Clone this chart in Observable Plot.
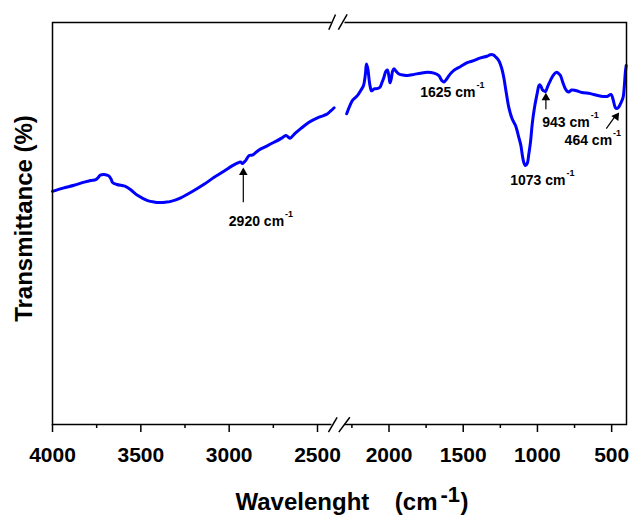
<!DOCTYPE html>
<html><head><meta charset="utf-8">
<script src="https://cdn.jsdelivr.net/npm/d3@7"></script>
<script src="https://cdn.jsdelivr.net/npm/@observablehq/plot@0.6"></script>
<style>
html,body{margin:0;padding:0;background:#fff;}
#chart svg{display:block;}
</style>
</head><body><div id="chart"></div>
<script>
// ---- data ----
const leftWavenumber = [4000,3940,3878,3820,3783,3755,3740,3731,3708,3690,3680,3668,3660,3636,3600,3585,3557,3519,3462,3420,3397,3360,3330,3274,3199,3140,3085,3030,2981,2944,2935,2925,2915,2906,2887,2870,2859,2831,2790,2746,2700,2680,2668,2655,2630,2595,2548,2500,2463,2443,2425,2406];
const leftTransmittance = [58.0,58.8,59.5,60.3,60.7,60.9,61.5,62.0,62.2,62.0,61.8,61.0,60.2,59.7,59.4,59.2,58.4,57.0,55.7,55.3,55.2,55.3,55.5,56.4,58.2,59.8,61.5,63.0,64.4,65.2,65.3,64.9,65.3,65.7,66.9,67.0,67.3,68.3,69.2,70.2,71.3,71.9,71.6,71.2,72.3,73.6,75.2,76.3,76.9,77.3,78.0,78.8];
const rightWavenumber = [2285,2265,2246,2213,2190,2172,2165,2158,2152,2146,2141,2134,2128,2118,2112,2100,2089,2075,2061,2048,2034,2022,2011,2000,1993,1985,1975,1966,1955,1933,1900,1876,1830,1787,1740,1697,1664,1645,1630,1610,1596,1563,1520,1473,1430,1383,1340,1317,1295,1283,1260,1240,1227,1210,1193,1170,1148,1126,1112,1103,1092,1080,1068,1058,1046,1035,1020,1002,990,984,975,965,957,946,930,912,895,874,860,845,830,812,800,789,770,744,700,643,580,531,504,490,476,465,453,440,423,415,408,402];
const rightTransmittance = [77.3,79.2,80.6,81.8,83.1,84.3,85.5,87.5,89.7,89.0,88.1,85.8,84.3,83.0,83.1,83.5,83.5,83.6,83.9,85.0,86.4,87.8,88.2,86.5,85.0,86.0,88.0,88.5,88.0,87.2,86.9,86.8,87.1,87.4,87.6,87.4,86.8,85.6,85.2,86.0,86.8,88.1,89.0,90.0,90.5,91.2,91.6,92.0,91.9,91.5,90.5,88.5,86.4,82.5,78.9,76.0,74.4,71.5,69.5,67.3,65.2,64.4,65.0,67.3,70.5,74.8,78.8,82.3,84.3,84.5,84.0,83.2,83.0,82.8,84.2,85.6,86.8,87.6,87.4,86.8,85.2,83.5,82.9,82.7,83.2,83.1,82.6,82.3,81.7,81.6,82.1,80.8,78.9,78.6,78.9,79.8,81.4,84.0,87.5,89.3];

const majorTicks = [4000,3500,3000,2500,2000,1500,1000,500];
const minorTicks = [3750,3250,2750,2250,1750,1250,750];

// peak annotations: label, position of end of "cm" (wavenumber) and baseline (transmittance)
const peakLabels = ["2920","1625","1073","943","464"];
const peakLabelX = [2689,1417,811,648,497];
const peakLabelY = [49.5,81.4,59.7,74.0,69.6];

// arrows: start (x1,y1) -> tip (x2,y2)
const arrowX1 = [2920,943,536];
const arrowY1 = [55.3,78.4,73.6];
const arrowX2 = [2920,943,469];
const arrowY2 = [63.2,81.8,77.1];
const arrowAngle = [0,0,35];

// axis break marks (two slashes on top and bottom axis)
const breakX1 = [2436,2382,2438,2378];
const breakY1 = [98.2,98.2,-1.9,-1.9];
const breakX2 = [2398,2282,2389,2264];
const breakY2 = [102.0,102.0,1.8,1.8];
const breakGapX = [2421,2300];

const xTitleWord = "Wavelenght";
const xTitleUnit = "(cm";
const xTitleSup = "-1";
const xTitleClose = ")";
const yTitle = "Transmittance (%)";

// ---- tables ----
const spectrum = [
  ...leftWavenumber.map((w,i)=>({w, t:leftTransmittance[i], seg:"a"})),
  ...rightWavenumber.map((w,i)=>({w, t:rightTransmittance[i], seg:"b"}))
];
const peaks = peakLabels.map((l,i)=>({label:l, x:peakLabelX[i], y:peakLabelY[i]}));
const arrows = arrowX1.map((x,i)=>({x1:x, y1:arrowY1[i], x2:arrowX2[i], y2:arrowY2[i], a:arrowAngle[i]}));
const breaks = breakX1.map((x,i)=>({x1:x, y1:breakY1[i], x2:breakX2[i], y2:breakY2[i]}));
const gaps = [0,100].map(v=>({x1:breakGapX[0], x2:breakGapX[1], y:v}));

const FONT = "'Liberation Sans', Arial, Helvetica, sans-serif";

const chart = Plot.plot({
  width: 632,
  height: 515,
  marginLeft: 52,
  marginRight: 6,
  marginTop: 22,
  marginBottom: 91,
  style: {fontFamily: FONT, fontWeight: "bold", background: "#fff", color: "#000"},
  x: {type: "linear", domain: [4000, 2380, 2320, 400], range: [52, 338.2, 341, 626], axis: null},
  y: {domain: [0, 100], axis: null},
  marks: [
    Plot.line(spectrum, {x: "w", y: "t", z: "seg", stroke: "#0000ff", strokeWidth: 3, curve: "catmull-rom"}),
    Plot.frame({stroke: "#000", strokeWidth: 1.5}),
    Plot.link(gaps, {x1: "x1", x2: "x2", y1: "y", y2: "y", stroke: "#fff", strokeWidth: 4}),
    Plot.link(breaks, {x1: "x1", y1: "y1", x2: "x2", y2: "y2", stroke: "#000", strokeWidth: 1.5}),
    Plot.axisX(majorTicks, {tickSize: 8, tickPadding: 15, strokeWidth: 1.5, fontSize: 21, tickFormat: d => String(d)}),
    Plot.axisX(minorTicks, {tickSize: 4, strokeWidth: 1.5, tickFormat: () => ""}),
    Plot.link(arrows, {x1: "x1", y1: "y1", x2: "x2", y2: "y2", stroke: "#000", strokeWidth: 1.2}),
    Plot.dot(arrows, {x: "x2", y: "y2", symbol: "triangle", r: 3.2, fill: "#000", stroke: null, rotate: "a", dy: 2}),
    Plot.text(peaks, {x: "x", y: "y", text: d => d.label + " cm", textAnchor: "end", lineAnchor: "bottom", fontSize: 14}),
    Plot.text(peaks, {x: "x", y: "y", text: () => "-1", textAnchor: "start", lineAnchor: "bottom", fontSize: 9, dx: 1, dy: -9}),
    Plot.text([xTitleWord], {frameAnchor: "bottom", text: d => d, textAnchor: "start", lineAnchor: "bottom", fontSize: 24, dx: -104, dy: 85}),
    Plot.text([xTitleUnit], {frameAnchor: "bottom", text: d => d, textAnchor: "end", lineAnchor: "bottom", fontSize: 24, dx: 98, dy: 85}),
    Plot.text([xTitleSup], {frameAnchor: "bottom", text: d => d, textAnchor: "start", lineAnchor: "bottom", fontSize: 22, dx: 101, dy: 77}),
    Plot.text([xTitleClose], {frameAnchor: "bottom", text: d => d, textAnchor: "start", lineAnchor: "bottom", fontSize: 24, dx: 121, dy: 85}),
    Plot.text([yTitle], {frameAnchor: "left", text: d => d, rotate: -90, textAnchor: "middle", lineAnchor: "bottom", fontSize: 24, dx: -21, dy: -5})
  ]
});
document.getElementById("chart").appendChild(chart);
</script>
</body></html>
